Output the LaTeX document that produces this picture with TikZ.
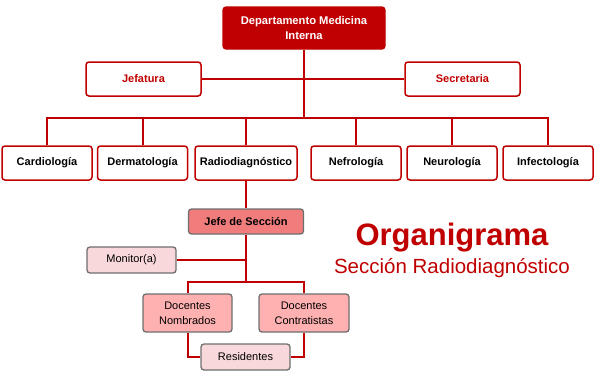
\documentclass[tikz,border=0pt]{standalone}
\usepackage{fontspec}
\setmainfont{Liberation Sans}
\usepackage{xcolor}
\definecolor{orgred}{HTML}{C00000}
\definecolor{orggray}{HTML}{6E6E6E}
\definecolor{jefefill}{HTML}{F07C7C}
\definecolor{docfill}{HTML}{FFB1B1}
\definecolor{palefill}{HTML}{F8D8DA}

\begin{document}
\begin{tikzpicture}[x=1pt, y=-1pt,
  topbox/.style={draw=orgred, fill=orgred, rounded corners=3pt, line width=1.2pt, minimum width=162pt, minimum height=42pt, align=center, text=white, font=\fontsize{11.2}{15}\selectfont\bfseries},
  staffbox/.style={draw=orgred, fill=white, rounded corners=3pt, line width=1.5pt, minimum width=115pt, minimum height=34pt, text=orgred, font=\fontsize{11}{13}\selectfont\bfseries},
  unitbox/.style={draw=orgred, fill=white, rounded corners=3pt, line width=1.5pt, minimum width=90pt, minimum height=34pt, font=\fontsize{11}{13}\selectfont\bfseries},
  secbox/.style={draw=orggray, rounded corners=3pt, line width=1.3pt, minimum width=89pt, minimum height=26pt, align=center, font=\fontsize{11}{15}\selectfont},
  link/.style={draw=orgred, line width=2pt}
]
\useasboundingbox (0,0) rectangle (596,378);

% Department
\node[topbox] (dept) at (304,28) {Departamento Medicina\\Interna};

% Staff
\node[staffbox] (jef) at (143.5,79) {Jefatura};
\node[staffbox] (sec) at (462.5,79) {Secretaria};

% Units
\node[unitbox] (card) at (47,163) {Cardiología};
\node[unitbox] (derm) at (142.5,163) {Dermatología};
\node[unitbox, minimum width=102pt] (radio) at (246,163) {Radiodiagnóstico};
\node[unitbox] (nefro) at (356,163) {Nefrología};
\node[unitbox] (neuro) at (452,163) {Neurología};
\node[unitbox] (infec) at (548,163) {Infectología};

% Section
\node[secbox, fill=jefefill, minimum width=115pt, minimum height=25pt, font=\fontsize{11}{13}\selectfont\bfseries] (jefe) at (246,221.5) {Jefe de Sección};
\node[secbox, fill=palefill] (mon) at (131.5,260) {Monitor(a)};
\node[secbox, fill=docfill, minimum height=38pt] (dnom) at (187.5,313) {Docentes\\Nombrados};
\node[secbox, fill=docfill, minimum width=90pt, minimum height=38pt] (dcon) at (304,313) {Docentes\\Contratistas};
\node[secbox, fill=palefill] (res) at (245.5,357) {Residentes};

\coordinate (bus) at (304,118);
\coordinate (bus2) at (246,282);

% Title
\node[anchor=base, text=orgred, font=\fontsize{31}{31}\selectfont\bfseries] (title) at (452,245) {Organigrama};
\node[anchor=base, text=orgred, font=\fontsize{20.5}{20.5}\selectfont] (subtitle) at (452,273) {Sección Radiodiagnóstico};

% Links
\path[link] (jef.east) -- (sec.west);
\path[link] (dept.south) -- (bus);
\path[link] (card.north) |- (bus) -| (infec.north);
\foreach \u in {derm, radio, nefro, neuro}
  \path[link] (\u.north) -- (\u.north |- bus);
\path[link] (radio.south) -- (jefe.north);
\path[link] (jefe.south) -- (bus2);
\path[link] (mon.east) -- (mon.east -| bus2);
\path[link] (dnom.north) |- (bus2) -| (dcon.north);
\path[link] (dnom.south) |- (res.west);
\path[link] (dcon.south) |- (res.east);

\end{tikzpicture}
\end{document}
